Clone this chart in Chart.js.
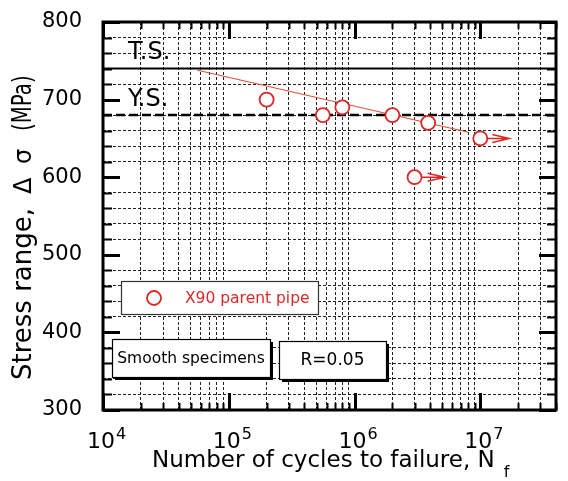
<!DOCTYPE html>
<html>
<head>
<meta charset="utf-8">
<script src="https://cdn.jsdelivr.net/npm/chart.js@4/dist/chart.umd.min.js"></script>
<style>
  html, body { margin: 0; padding: 0; background: #fff; }
  #wrap { width: 568px; height: 481px; }
</style>
</head>
<body>
<div id="wrap"><canvas id="snChart" width="568" height="481"></canvas></div>
<script>
'use strict';

// test results (N = cycles, S = stress range MPa)
let cyclesN = [2e5, 5.6e5, 8e5, 2e6, 3.85e6, 1e7, 3e6];
let stressS = [700, 680, 690, 680, 670, 650, 600];
let runout = [false, false, false, false, false, true, true];
let runoutTipN = [0, 0, 0, 0, 0, 1.7e7, 5.2e6];

// fitted S-N line
let fitN = [5.6e4, 8e6];
let fitS = [738, 658];

// tensile and yield strength
let tsValue = 740;
let ysValue = 680;
let xRange = [1e4, 4e7];
let yRange = [300, 800];

let xTickValues = [];
for (let e = 4; e <= 7; e++) {
  for (let m = 1; m <= 9; m++) {
    let v = m * Math.pow(10, e);
    if (v <= xRange[1]) xTickValues.push(v);
  }
}
let yTickValues = [];
for (let v = yRange[0]; v <= yRange[1]; v += 20) yTickValues.push(v);

let red = '#dc2727';
let fontName = '"DejaVu Sans", sans-serif';

function isMajorX(v) {
  let e = Math.log10(v);
  return Math.abs(e - Math.round(e)) < 1e-9;
}
function isMajorY(v) {
  return v % 100 === 0;
}

let framePlugin = {
  id: 'framePlugin',
  afterDraw(chart) {
    let ctx = chart.ctx;
    let area = chart.chartArea;
    let xs = chart.scales.x;
    let ys = chart.scales.y;
    ctx.save();
    ctx.strokeStyle = '#000';
    ctx.setLineDash([]);

    // inward ticks
    xTickValues.forEach(function (v) {
      let px = Math.round(xs.getPixelForValue(v)) + 0.5;
      let major = isMajorX(v);
      let len = major ? 17 : 7;
      ctx.lineWidth = major ? 3 : 2;
      ctx.beginPath();
      ctx.moveTo(px, area.bottom);
      ctx.lineTo(px, area.bottom - len);
      ctx.moveTo(px, area.top);
      ctx.lineTo(px, area.top + len);
      ctx.stroke();
    });
    yTickValues.forEach(function (v) {
      let py = Math.round(ys.getPixelForValue(v)) + 0.5;
      let major = isMajorY(v);
      let len = major ? 17 : 9;
      ctx.lineWidth = major ? 3 : 2;
      ctx.beginPath();
      ctx.moveTo(area.left, py);
      ctx.lineTo(area.left + len, py);
      ctx.moveTo(area.right, py);
      ctx.lineTo(area.right - len, py);
      ctx.stroke();
    });

    // frame
    ctx.lineWidth = 3;
    ctx.strokeRect(area.left, area.top, area.right - area.left, area.bottom - area.top);

    // x tick labels 10^n
    ctx.fillStyle = '#000';
    ctx.textAlign = 'left';
    ctx.textBaseline = 'alphabetic';
    xTickValues.filter(isMajorX).forEach(function (v) {
      let px = xs.getPixelForValue(v);
      let e = Math.round(Math.log10(v));
      ctx.font = '22px ' + fontName;
      ctx.fillText('10', px - 16, 448);
      ctx.font = '16px ' + fontName;
      ctx.fillText(String(e), px + 13, 439);
    });

    // run-out arrows
    ctx.strokeStyle = red;
    ctx.lineWidth = 1.5;
    for (let i = 0; i < cyclesN.length; i++) {
      if (!runout[i]) continue;
      let x0 = xs.getPixelForValue(cyclesN[i]) + 7;
      let x1 = xs.getPixelForValue(runoutTipN[i]);
      let y = ys.getPixelForValue(stressS[i]);
      ctx.beginPath();
      ctx.moveTo(x0, y);
      ctx.lineTo(x1, y);
      ctx.moveTo(x1 - 17, y - 4);
      ctx.lineTo(x1, y);
      ctx.lineTo(x1 - 17, y + 4);
      ctx.stroke();
    }

    // T.S. / Y.S. labels
    ctx.fillStyle = '#000';
    ctx.font = '24px ' + fontName;
    ctx.textBaseline = 'middle';
    ctx.textAlign = 'left';
    ctx.fillText('T.S.', area.left + 25, ys.getPixelForValue(760));
    ctx.fillText('Y.S.', area.left + 25, ys.getPixelForValue(700));

    // legend box
    ctx.lineWidth = 1.2;
    ctx.strokeStyle = '#333';
    ctx.fillStyle = '#fff';
    ctx.fillRect(121, 281, 197, 33);
    ctx.strokeRect(121.5, 281.5, 197, 33);
    ctx.beginPath();
    ctx.arc(154, 298, 7, 0, Math.PI * 2);
    ctx.strokeStyle = red;
    ctx.lineWidth = 1.8;
    ctx.stroke();
    ctx.fillStyle = red;
    ctx.font = '15.5px ' + fontName;
    ctx.fillText('X90 parent pipe', 185, 299);

    // note boxes with shadow
    function noteBox(x, y, w, h, text, size) {
      ctx.fillStyle = '#000';
      ctx.fillRect(x + 3, y + 3, w, h);
      ctx.fillStyle = '#fff';
      ctx.fillRect(x, y, w, h);
      ctx.strokeStyle = '#000';
      ctx.lineWidth = 1.2;
      ctx.strokeRect(x + 0.5, y + 0.5, w, h);
      ctx.fillStyle = '#000';
      ctx.font = size + 'px ' + fontName;
      ctx.textAlign = 'center';
      ctx.fillText(text, x + w / 2, y + h / 2 + 1);
      ctx.textAlign = 'left';
    }
    noteBox(112, 339, 158, 38, 'Smooth specimens', 15.5);
    noteBox(279, 341, 107, 38, 'R=0.05', 17);

    // x axis title with subscript
    ctx.fillStyle = '#000';
    ctx.font = '23px ' + fontName;
    ctx.textBaseline = 'alphabetic';
    let xt = 'Number of cycles to failure, N';
    ctx.fillText(xt, 152, 467);
    let w = ctx.measureText(xt).width;
    ctx.font = '16px ' + fontName;
    ctx.fillText('f', 152 + w + 9, 477);

    // y axis title
    ctx.translate(31, 380);
    ctx.rotate(-Math.PI / 2);
    ctx.textAlign = 'left';
    ctx.font = '26px ' + fontName;
    ctx.fillText('Stress range,', 0, 0);
    ctx.font = '24px ' + fontName;
    ctx.fillText('\u0394', 186, 0);
    ctx.fillText('\u03c3', 216, 0);
    ctx.save();
    ctx.translate(249, 0);
    ctx.scale(0.76, 1);
    ctx.font = '26px ' + fontName;
    ctx.fillText('(MPa)', 0, 0);
    ctx.restore();
    ctx.restore();
  }
};

let ctx = document.getElementById('snChart').getContext('2d');
let snChart = new Chart(ctx, {
  type: 'scatter',
  data: {
    datasets: [{
      label: 'X90 parent pipe',
      data: cyclesN.map((n, i) => ({x: n, y: stressS[i]})),
      pointRadius: 7,
      pointHoverRadius: 7,
      pointBorderWidth: 1.8,
      borderColor: red,
      backgroundColor: '#fff',
      showLine: false
    }, {
      label: 'fit',
      data: fitN.map((n, i) => ({x: n, y: fitS[i]})),
      showLine: true,
      borderColor: '#e8452c',
      borderWidth: 1,
      pointRadius: 0
    }, {
      label: 'T.S.',
      data: xRange.map(n => ({x: n, y: tsValue})),
      showLine: true,
      borderColor: '#000',
      borderWidth: 2,
      pointRadius: 0
    }, {
      label: 'Y.S.',
      data: xRange.map(n => ({x: n, y: ysValue})),
      showLine: true,
      borderColor: '#000',
      borderWidth: 2.5,
      borderDash: [9, 4],
      pointRadius: 0
    }]
  },
  options: {
    responsive: false,
    animation: false,
    devicePixelRatio: 1,
    layout: { padding: { top: 22, right: 12, left: 0, bottom: 0 } },
    plugins: {
      legend: { display: false },
      tooltip: { enabled: false }
    },
    scales: {
      x: {
        type: 'logarithmic',
        min: xRange[0],
        max: xRange[1],
        afterBuildTicks: function (scale) {
          scale.ticks = xTickValues.map(v => ({value: v, major: isMajorX(v)}));
        },
        afterFit: function (scale) {
          scale.height = 71;
          scale.paddingLeft = 0;
          scale.paddingRight = 0;
        },
        grid: {
          drawTicks: false,
          color: c => (c.tick && c.tick.major) ? 'rgba(0,0,0,0)' : '#222',
          lineWidth: 1
        },
        border: { display: false, dash: [3, 2] },
        ticks: { display: false, autoSkip: false }
      },
      y: {
        type: 'linear',
        min: yRange[0],
        max: yRange[1],
        afterBuildTicks: function (scale) {
          scale.ticks = yTickValues.map(v => ({value: v, major: isMajorY(v)}));
        },
        afterFit: function (scale) {
          scale.width = 103;
          scale.paddingTop = 0;
          scale.paddingBottom = 0;
        },
        grid: {
          drawTicks: false,
          color: c => (c.tick && c.tick.major) ? 'rgba(0,0,0,0)' : '#222',
          lineWidth: 1
        },
        border: { display: false, dash: [3, 2] },
        ticks: {
          autoSkip: false,
          padding: 21,
          color: '#000',
          font: { family: fontName, size: 21 },
          callback: function (value) {
            return isMajorY(value) ? String(value) : '';
          }
        }
      }
    }
  },
  plugins: [framePlugin]
});
</script>
</body>
</html>
